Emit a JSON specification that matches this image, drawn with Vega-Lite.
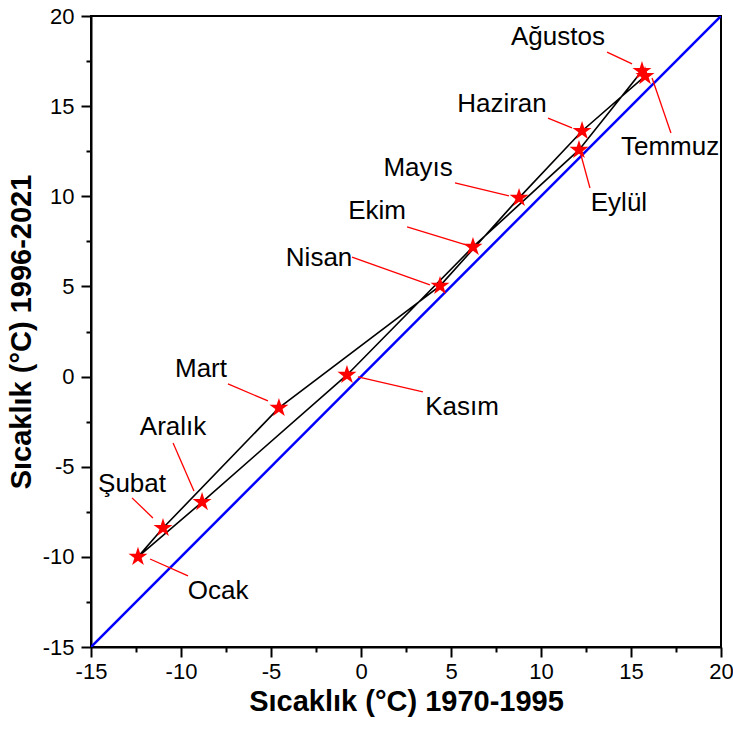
{
  "$schema": "https://vega.github.io/schema/vega-lite/v6.json",
  "width": 630,
  "height": 631,
  "autosize": "none",
  "padding": {"left": 91, "top": 16, "right": 12, "bottom": 84},
  "background": "white",
  "config": {
    "font": "Liberation Sans",
    "view": {"stroke": "black", "strokeWidth": 2},
    "axis": {
      "grid": false,
      "domainColor": "black",
      "domainWidth": 2,
      "tickColor": "black",
      "tickWidth": 2,
      "labelColor": "black",
      "labelFont": "Liberation Sans",
      "labelFontSize": 22,
      "titleColor": "black",
      "titleFont": "Liberation Sans",
      "titleFontSize": 29,
      "titleFontWeight": "bold",
      "labelFlush": false
    }
  },
  "datasets": {
    "months": [
      {"ay": "Ocak", "ord": 1, "x": -12.39, "y": -10.0, "lx": -7.94, "ly": -11.89, "ax1": -11.72, "ay1": -10.12, "ax2": -9.61, "ay2": -11.06, "star": true},
      {"ay": "Şubat", "ord": 2, "x": -11.0, "y": -8.4, "lx": -12.72, "ly": -5.96, "ax1": -12.72, "ay1": -6.73, "ax2": -11.56, "ay2": -7.84, "star": true},
      {"ay": "Mart", "ord": 3, "x": -4.56, "y": -1.74, "lx": -8.89, "ly": 0.42, "ax1": -7.39, "ay1": -0.41, "ax2": -5.17, "ay2": -1.35, "star": true},
      {"ay": "Nisan", "ord": 4, "x": 4.39, "y": 5.03, "lx": -2.33, "ly": 6.58, "ax1": -0.5, "ay1": 6.63, "ax2": 3.83, "ay2": 5.08, "star": true},
      {"ay": "Mayıs", "ord": 5, "x": 8.78, "y": 9.91, "lx": 3.17, "ly": 11.57, "ax1": 5.22, "ay1": 10.74, "ax2": 8.22, "ay2": 10.02, "star": true},
      {"ay": "Haziran", "ord": 6, "x": 12.28, "y": 13.62, "lx": 7.83, "ly": 15.12, "ax1": 10.39, "ay1": 14.34, "ax2": 11.72, "ay2": 13.79, "star": true},
      {"ay": "Temmuz", "ord": 7, "x": 15.78, "y": 16.67, "lx": 17.17, "ly": 12.73, "ax1": 16.17, "ay1": 16.56, "ax2": 17.22, "ay2": 13.51, "star": true},
      {"ay": "Ağustos", "ord": 8, "x": 15.61, "y": 16.95, "lx": 10.94, "ly": 18.84, "ax1": 13.67, "ay1": 18.0, "ax2": 15.06, "ay2": 17.34, "star": true},
      {"ay": "Eylül", "ord": 9, "x": 12.11, "y": 12.57, "lx": 14.33, "ly": 9.63, "ax1": 12.22, "ay1": 12.29, "ax2": 12.72, "ay2": 10.46, "star": true},
      {"ay": "Ekim", "ord": 10, "x": 6.22, "y": 7.19, "lx": 0.89, "ly": 9.18, "ax1": 2.56, "ay1": 8.3, "ax2": 5.83, "ay2": 7.3, "star": true},
      {"ay": "Kasım", "ord": 11, "x": -0.78, "y": 0.09, "lx": 5.61, "ly": -1.69, "ax1": -0.17, "ay1": -0.02, "ax2": 3.44, "ay2": -0.85, "star": true},
      {"ay": "Aralık", "ord": 12, "x": -8.83, "y": -6.96, "lx": -10.44, "ly": -2.8, "ax1": -10.44, "ay1": -3.68, "ax2": -9.28, "ay2": -6.35, "star": true},
      {"ay": "Ocak", "ord": 13, "x": -12.39, "y": -10.0, "star": false}
    ],
    "diag": [
      {"x": -15, "y": -15},
      {"x": 20, "y": 20}
    ]
  },
  "layer": [
    {
      "data": {"name": "diag"},
      "mark": {"type": "line", "color": "#0000ff", "strokeWidth": 2.5, "clip": true},
      "encoding": {
        "x": {"field": "x", "type": "quantitative", "scale": {"domain": [-15, 20], "nice": false, "zero": false},
          "axis": {"title": "Sıcaklık (°C) 1970-1995", "labelPadding": 4, "titlePadding": 5,
            "values": [-15, -12.5, -10, -7.5, -5, -2.5, 0, 2.5, 5, 7.5, 10, 12.5, 15, 17.5, 20],
            "labelExpr": "datum.value % 5 == 0 ? '' + datum.value : ''",
            "labelOverlap": false,
            "tickSize": {"condition": {"test": "datum.value % 5 == 0", "value": 10}, "value": 5}}},
        "y": {"field": "y", "type": "quantitative", "scale": {"domain": [-15, 20], "nice": false, "zero": false},
          "axis": {"title": "Sıcaklık (°C) 1996-2021", "labelPadding": 7, "titlePadding": 6,
            "values": [-15, -12.5, -10, -7.5, -5, -2.5, 0, 2.5, 5, 7.5, 10, 12.5, 15, 17.5, 20],
            "labelExpr": "datum.value % 5 == 0 ? '' + datum.value : ''",
            "labelOverlap": false,
            "tickSize": {"condition": {"test": "datum.value % 5 == 0", "value": 10}, "value": 5}}}
      }
    },
    {
      "data": {"name": "months"},
      "mark": {"type": "line", "color": "black", "strokeWidth": 1.6},
      "encoding": {
        "x": {"field": "x", "type": "quantitative"},
        "y": {"field": "y", "type": "quantitative"},
        "order": {"field": "ord", "type": "quantitative"}
      }
    },
    {
      "data": {"name": "months"},
      "transform": [{"filter": "datum.star"}],
      "mark": {"type": "rule", "color": "#ff0000", "strokeWidth": 1.3},
      "encoding": {
        "x": {"field": "ax1", "type": "quantitative"},
        "y": {"field": "ay1", "type": "quantitative"},
        "x2": {"field": "ax2"},
        "y2": {"field": "ay2"}
      }
    },
    {
      "data": {"name": "months"},
      "transform": [{"filter": "datum.star"}],
      "mark": {"type": "point", "shape": "M0,-1L0.2245,-0.309L0.951,-0.309L0.363,0.118L0.588,0.809L0,0.382L-0.588,0.809L-0.363,0.118L-0.951,-0.309L-0.2245,-0.309Z", "filled": true, "color": "#ff0000", "opacity": 1, "size": 400},
      "encoding": {
        "x": {"field": "x", "type": "quantitative"},
        "y": {"field": "y", "type": "quantitative"}
      }
    },
    {
      "data": {"name": "months"},
      "transform": [{"filter": "datum.star"}],
      "mark": {"type": "text", "fontSize": 26, "font": "Liberation Sans", "color": "black", "align": "center", "baseline": "middle"},
      "encoding": {
        "x": {"field": "lx", "type": "quantitative"},
        "y": {"field": "ly", "type": "quantitative"},
        "text": {"field": "ay"}
      }
    }
  ]
}
